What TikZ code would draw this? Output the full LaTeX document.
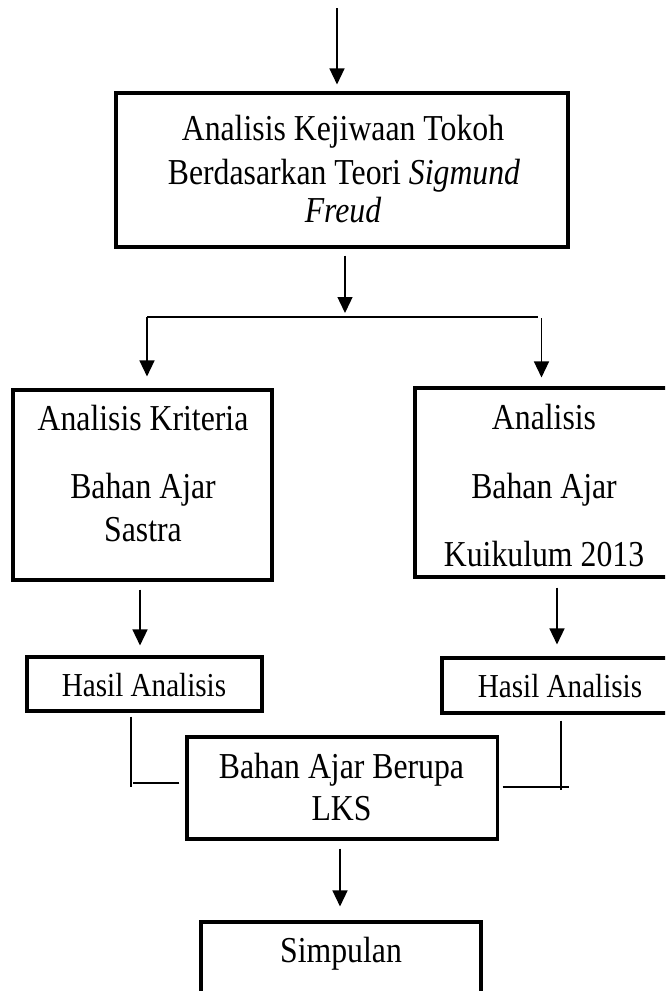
\documentclass[tikz,border=0pt]{standalone}
\usepackage{fontspec}
\setmainfont{Liberation Serif}[FakeStretch=0.87]
\usetikzlibrary{arrows.meta}
\begin{document}
\begin{tikzpicture}[x=1pt,y=-1pt,
  box/.style={draw, line width=3.1pt, rectangle, inner sep=0pt},
  txt/.style={anchor=base, inner sep=0pt, font=\fontsize{36.5}{42}\selectfont},
  stxt/.style={anchor=base, inner sep=0pt, font=\fontsize{33.5}{38}\selectfont},
  arr/.style={line width=1.4pt, -{Triangle[length=16pt,width=15pt]}},
  conn/.style={line width=1.4pt}]
\useasboundingbox (0,0) rectangle (665,991);
\clip (0,0) rectangle (665,991);
\fill[white] (0,0) rectangle (665,991);

% boxes
\node[box, minimum width=452, minimum height=154] (b1) at (342,170) {};
\node[box, minimum width=259, minimum height=190] (lb) at (142.5,485) {};
\node[box, minimum width=258, minimum height=189] (rb) at (544,482.5) {};
\node[box, minimum width=235, minimum height=54] (hl) at (144.5,684) {};
\node[box, minimum width=236, minimum height=55] (hr) at (560,685.5) {};
\node[box, minimum width=310.5, minimum height=102] (lks) at (342.25,788) {};
\node[box, minimum width=280, minimum height=88] (simp) at (341,966) {};

% texts
\node[txt] (t1a) at (343,140) {Analisis Kejiwaan Tokoh};
\node[txt] (t1b) at (344,184) {Berdasarkan Teori \textit{Sigmund}};
\node[txt] (t1c) at (343,222) {\textit{Freud}};
\node[txt] (tla) at (143,430) {Analisis Kriteria};
\node[txt] (tlb) at (143,498) {Bahan Ajar};
\node[txt] (tlc) at (143,541) {Sastra};
\node[txt] (tra) at (544,429) {Analisis};
\node[txt] (trb) at (544,498) {Bahan Ajar};
\node[txt] (trc) at (544,566) {Kuikulum 2013};
\node[stxt] (thl) at (144,696) {Hasil Analisis};
\node[stxt] (thr) at (560,697) {Hasil Analisis};
\node[txt] (tka) at (341.5,778) {Bahan Ajar Berupa};
\node[txt] (tkb) at (341.5,820) {LKS};
\node[txt] (ts) at (341,962) {Simpulan};

% connectors
\coordinate (top) at (337,8);
\draw[arr] (top) -- ([xshift=-5pt,yshift=7pt]b1.north);
\coordinate (jm) at (345,317);
\coordinate (jl) at (147,317);
\coordinate (jr) at (538,317);
\coordinate (jr2) at (541.5,318);
\draw[arr] ([xshift=3pt,yshift=-7pt]b1.south) -- ([yshift=4pt]jm);
\draw[conn] (jl) -- (jr);
\draw[arr] (jl) -- ([xshift=4.5pt,yshift=12pt]lb.north);
\draw[arr] (jr2) -- ([xshift=-2.5pt,yshift=9pt]rb.north);
\draw[arr] ([xshift=-2.5pt,yshift=-8pt]lb.south) -- ([xshift=-4.5pt,yshift=10pt]hl.north);
\draw[arr] ([xshift=13pt,yshift=-9pt]rb.south) -- ([xshift=-3pt,yshift=12pt]hr.north);
\draw[conn] ([xshift=-13.5pt,yshift=-4pt]hl.south) -- ++(0,70);
\draw[conn] ([xshift=-6pt,yshift=5pt]lks.west) -- ++(-46,0);
\draw[conn] ([xshift=1pt,yshift=-6pt]hr.south) -- ++(0,69);
\draw[conn] ([xshift=3.5pt,yshift=1pt]lks.east) -- ++(66,0);
\draw[arr] ([xshift=-2.25pt,yshift=-8pt]lks.south) -- ([xshift=-1pt,yshift=14pt]simp.north);
\end{tikzpicture}
\end{document}
